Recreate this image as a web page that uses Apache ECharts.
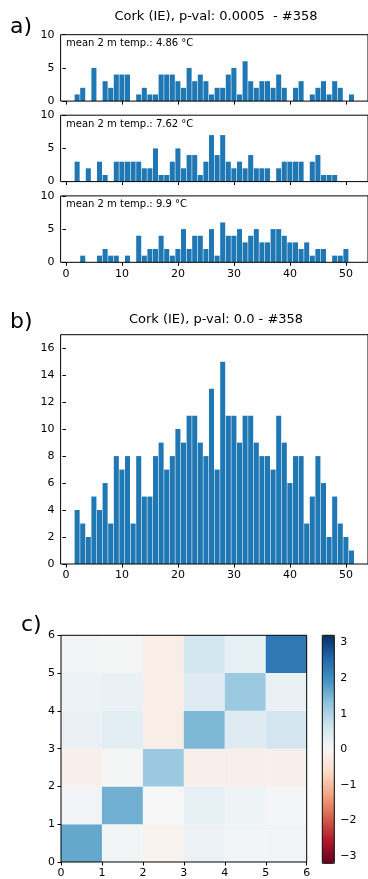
<!DOCTYPE html>
<html>
<head>
<meta charset="utf-8">
<script src="https://cdn.jsdelivr.net/npm/echarts@6/dist/echarts.min.js"></script>
<style>
html,body{margin:0;padding:0;background:#fff;}
#chart{width:368px;height:879px;}
</style>
</head>
<body>
<div id="chart"></div>
<script>
// ---- data ----
const weeks = [1,2,3,4,5,6,7,8,9,10,11,12,13,14,15,16,17,18,19,20,21,22,23,24,25,26,27,28,29,30,31,32,33,34,35,36,37,38,39,40,41,42,43,44,45,46,47,48,49,50,51,52];
const countsCold = [0,1,2,0,5,0,3,2,4,4, 4,0,1,2,1,1,4,4,4,3, 2,5,3,4,3,1,2,2,4,5, 1,6,3,2,3,3,2,4,2,0, 2,3,0,1,2,3,1,3,2,0, 1,0];
const countsMid  = [0,3,0,2,0,3,1,0,3,3, 3,3,3,2,2,5,1,1,3,5, 2,4,4,1,3,7,4,7,3,2, 3,2,4,2,2,2,0,2,3,3, 3,3,0,3,4,1,1,1,0,0, 0,0];
const countsWarm = [0,0,1,0,0,1,2,1,1,0, 1,0,4,1,2,2,4,2,1,2, 5,2,4,4,2,5,1,6,4,4, 5,3,4,5,3,3,5,5,4,3, 3,2,3,1,2,2,0,1,1,2, 0,0];
const countsAll  = [0,4,3,2,5,4,6,3,8,7, 8,3,8,5,5,8,9,7,8,10, 9,11,11,9,8,13,7,15,11,11, 9,11,11,9,8,8,7,11,9,6, 8,8,3,5,8,6,2,5,3,2, 1,0];
const panelTemps = ['mean 2 m temp.: 4.86 °C', 'mean 2 m temp.: 7.62 °C', 'mean 2 m temp.: 9.9 °C'];
const titleA = 'Cork (IE), p-val: 0.0005  - #358';
const titleB = 'Cork (IE), p-val: 0.0 - #358';
const weekTicks = [0,10,20,30,40,50];
const smallYTicks = [0,5,10];
const bigYTicks = [0,2,4,6,8,10,12,14,16];
const heatTicks = [0,1,2,3,4,5,6];
const cbarTicks = [-3,-2,-1,0,1,2,3];
const heatRow0 = [1.65, 0.08, -0.12, 0.20, 0.12, 0.10];
const heatRow1 = [0.10, 1.55, 0.02, 0.30, 0.15, 0.06];
const heatRow2 = [-0.18, 0.05, 1.20, -0.18, -0.18, -0.18];
const heatRow3 = [0.22, 0.35, -0.22, 1.45, 0.42, 0.60];
const heatRow4 = [0.18, 0.22, -0.22, 0.42, 1.20, 0.22];
const heatRow5 = [0.08, 0.05, -0.22, 0.62, 0.30, 2.30];
const rdbu = ['#67001f','#b2182b','#d6604d','#f4a582','#fddbc7','#f7f7f7','#d1e5f0','#92c5de','#4393c3','#2166ac','#053061'];

// ---- build ----
const FONT = 'DejaVu Sans';
const heatRows = [heatRow0, heatRow1, heatRow2, heatRow3, heatRow4, heatRow5];
const heatData = [];
heatRows.forEach((row, y) => row.forEach((v, x) => heatData.push([x, y, v])));

function pairs(vals) { return weeks.map((w, i) => [w, vals[i]]); }

const xL = 60.6, xW = 310.7;
const grids = [
  {left: xL, top: 34.7, width: xW, height: 66.4},
  {left: xL, top: 115.2, width: xW, height: 66.4},
  {left: xL, top: 195.9, width: xW, height: 66.4},
  {left: xL, top: 334.7, width: xW, height: 229.3},
  {left: 61, top: 635.3, width: 245.7, height: 228},
  {left: 322.3, top: 635.3, width: 12, height: 228}
].map((g, i) => Object.assign({show: true, borderColor: '#000', borderWidth: 1, backgroundColor: 'transparent', z: 10}, g));

const tickStyle = {lineStyle: {color: '#000', width: 1}, length: 3.5};
const labStyle = {color: '#000', fontFamily: FONT, fontSize: 11, margin: 6};

function weekAxis(gi, showLabels) {
  return {type: 'value', gridIndex: gi, min: -0.95, max: 53.95,
    axisLine: {show: false}, splitLine: {show: false},
    axisTick: Object.assign({show: true, customValues: weekTicks}, tickStyle),
    axisLabel: Object.assign({show: showLabels, customValues: weekTicks}, labStyle)};
}
function valAxis(gi, max, ticks) {
  return {type: 'value', gridIndex: gi, min: 0, max: max,
    axisLine: {show: false}, splitLine: {show: false},
    axisTick: Object.assign({show: true, customValues: ticks}, tickStyle),
    axisLabel: Object.assign({show: true, customValues: ticks}, labStyle)};
}

function barItem(params, api) {
  const x = api.value(0), v = api.value(1);
  if (!v) return null;
  const p0 = api.coord([x - 0.45, v]);
  const p1 = api.coord([x + 0.45, 0]);
  return {type: 'rect', shape: {x: p0[0], y: p0[1], width: p1[0] - p0[0], height: p1[1] - p0[1]}, style: {fill: '#1f77b4'}};
}
function heatItem(params, api) {
  const x = api.value(0), y = api.value(1);
  const p0 = api.coord([x, y + 1]);
  const p1 = api.coord([x + 1, y]);
  return {type: 'rect', shape: {x: p0[0], y: p0[1], width: p1[0] - p0[0], height: p1[1] - p0[1]}, style: {fill: api.visual('color')}};
}

const xAxes = [weekAxis(0, false), weekAxis(1, false), weekAxis(2, true), weekAxis(3, true),
  {type: 'value', gridIndex: 4, min: 0, max: 6, axisLine: {show: false}, splitLine: {show: false},
    axisTick: Object.assign({show: true, customValues: heatTicks}, tickStyle),
    axisLabel: Object.assign({show: true, customValues: heatTicks}, labStyle)},
  {type: 'value', gridIndex: 5, min: 0, max: 1, show: false}];
const yAxes = [valAxis(0, 10, smallYTicks), valAxis(1, 10, smallYTicks), valAxis(2, 10, smallYTicks), valAxis(3, 17, bigYTicks),
  valAxis(4, 6, heatTicks),
  {type: 'value', gridIndex: 5, min: -3.2, max: 3.2, position: 'right', axisLine: {show: false}, splitLine: {show: false},
    axisTick: Object.assign({show: true, customValues: cbarTicks}, tickStyle),
    axisLabel: Object.assign({show: true, customValues: cbarTicks, formatter: v => v < 0 ? '\u2212' + (-v) : String(v)}, labStyle)}];

const seriesList = [countsCold, countsMid, countsWarm, countsAll].map((vals, i) => ({
  type: 'custom', xAxisIndex: i, yAxisIndex: i, renderItem: barItem, data: pairs(vals), encode: {x: 0, y: 1}, silent: true, animation: false
}));
seriesList.push({type: 'custom', xAxisIndex: 4, yAxisIndex: 4, renderItem: heatItem, data: heatData, encode: {x: 0, y: 1}, silent: true, animation: false});

const texts = [];
function txt(x, y, s, size, align) {
  texts.push({type: 'text', x: x, y: y, silent: true, style: {text: s, fill: '#000', font: size + 'px "' + FONT + '"', textAlign: align || 'left', textVerticalAlign: 'middle'}});
}
txt(10, 27, 'a)', 22);
txt(10, 322, 'b)', 22);
txt(21, 625, 'c)', 22);
txt(216, 17, titleA, 13, 'center');
txt(216, 320, titleB, 13, 'center');
txt(66, 43.3, panelTemps[0], 10);
txt(66, 124, panelTemps[1], 10);
txt(66, 204.6, panelTemps[2], 10);

const chart = echarts.init(document.getElementById('chart'), null, {renderer: 'canvas'});
chart.setOption({
  animation: false,
  backgroundColor: '#fff',
  grid: grids,
  xAxis: xAxes,
  yAxis: yAxes,
  visualMap: [{type: 'continuous', seriesIndex: 4, dimension: 2, min: -3.2, max: 3.2, calculable: false,
    left: 322.3, top: 635.3, itemWidth: 12, itemHeight: 228, padding: 0, text: null, showLabel: false,
    inRange: {color: rdbu}, z: 4}],
  series: seriesList,
  graphic: texts
});
</script>
</body>
</html>
